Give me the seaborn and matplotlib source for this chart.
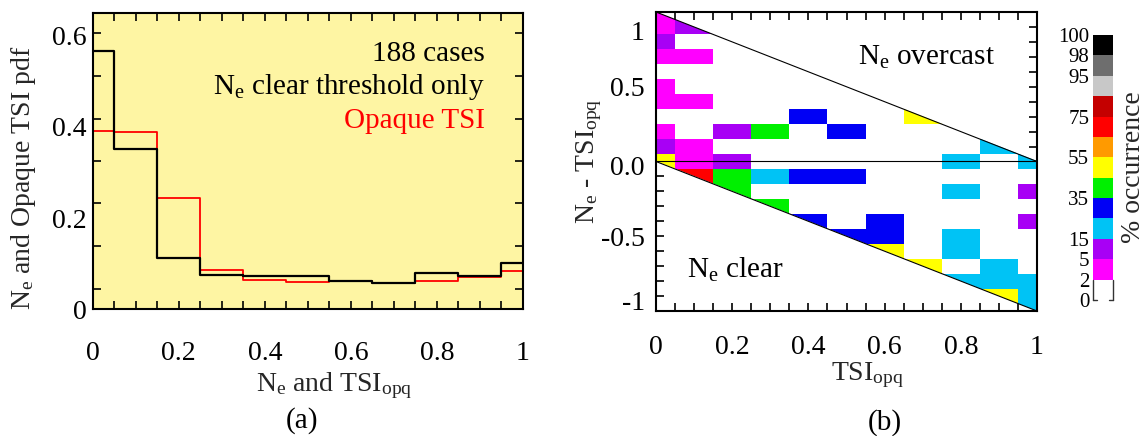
import numpy as np
import matplotlib
matplotlib.use("Agg")
import matplotlib.pyplot as plt
import seaborn as sns
from matplotlib.colors import ListedColormap, BoundaryNorm
from matplotlib.patches import Polygon
from matplotlib.ticker import FixedLocator, MultipleLocator, FixedFormatter
import matplotlib.colorbar as mcolorbar

# ---------------- data ----------------
# (a) pdfs on bins centred at 0, 0.1, ..., 1 (edge bins half width)
bin_edges = [0.0, 0.05, 0.15, 0.25, 0.35, 0.45, 0.55, 0.65, 0.75, 0.85, 0.95, 1.0]
ne_clear_pdf = [0.565, 0.351, 0.112, 0.076, 0.074, 0.074, 0.062, 0.057, 0.080, 0.074, 0.101]
opaque_tsi_pdf = [0.390, 0.388, 0.244, 0.086, 0.065, 0.059, 0.062, 0.058, 0.062, 0.071, 0.084]

# (b) % occurrence of Ne - TSIopq for each TSIopq bin
tsi_centers = [0.0, 0.1, 0.2, 0.3, 0.4, 0.5, 0.6, 0.7, 0.8, 0.9, 1.0]
diff_centers = [1.0, 0.9, 0.8, 0.7, 0.6, 0.5, 0.4, 0.3, 0.2, 0.1, 0.0,
                -0.1, -0.2, -0.3, -0.4, -0.5, -0.6, -0.7, -0.8, -0.9, -1.0]
occurrence = [
    [3, 0, 0, 0, 0, 0, 0, 0, 0, 0, 0],        # 1.0
    [3, 10, 0, 0, 0, 0, 0, 0, 0, 0, 0],       # 0.9
    [10, 0, 0, 0, 0, 0, 0, 0, 0, 0, 0],       # 0.8
    [3, 3, 0, 0, 0, 0, 0, 0, 0, 0, 0],        # 0.7
    [0, 0, 0, 0, 0, 0, 0, 0, 0, 0, 0],        # 0.6
    [3, 0, 0, 0, 0, 0, 0, 0, 0, 0, 0],        # 0.5
    [3, 3, 0, 0, 0, 0, 0, 0, 0, 0, 0],        # 0.4
    [0, 0, 0, 0, 30, 0, 0, 50, 0, 0, 0],      # 0.3
    [3, 0, 10, 40, 0, 30, 0, 0, 0, 0, 0],     # 0.2
    [10, 3, 0, 0, 0, 0, 0, 0, 0, 20, 0],      # 0.1
    [50, 3, 10, 0, 0, 0, 0, 0, 20, 0, 20],    # 0.0
    [0, 70, 40, 20, 30, 30, 0, 0, 0, 0, 0],   # -0.1
    [0, 0, 40, 0, 0, 0, 0, 0, 20, 0, 10],     # -0.2
    [0, 0, 0, 40, 0, 0, 0, 0, 0, 0, 0],       # -0.3
    [0, 0, 0, 0, 30, 0, 30, 0, 0, 0, 10],     # -0.4
    [0, 0, 0, 0, 0, 30, 30, 0, 20, 0, 0],     # -0.5
    [0, 0, 0, 0, 0, 0, 50, 0, 20, 0, 0],      # -0.6
    [0, 0, 0, 0, 0, 0, 0, 50, 0, 20, 0],      # -0.7
    [0, 0, 0, 0, 0, 0, 0, 0, 20, 20, 20],     # -0.8
    [0, 0, 0, 0, 0, 0, 0, 0, 0, 50, 20],      # -0.9
    [0, 0, 0, 0, 0, 0, 0, 0, 0, 0, 20],       # -1.0
]

level_bounds = [0, 2, 5, 15, 25, 35, 45, 55, 65, 75, 85, 95, 98, 100]
level_colors = ["#FFFFFF", "#FF00FF", "#A800F5", "#00C3F5", "#0000F5", "#00F000",
                "#FFFF00", "#FF9A00", "#FF0000", "#C40000", "#C8C8C8", "#6E6E6E", "#000000"]
cbar_ticks = [0, 2, 5, 15, 35, 55, 75, 95, 98, 100]

x_ticks = [0, 0.2, 0.4, 0.6, 0.8, 1.0]
x_ticklabels = ["0", "0.2", "0.4", "0.6", "0.8", "1"]
pdf_ticks = [0, 0.2, 0.4, 0.6]
pdf_ticklabels = ["0", "0.2", "0.4", "0.6"]
diff_ticklabels = ["-1", "-0.5", "0.0", "0.5", "1"]

# ---------------- style ----------------
sns.set_theme(style="ticks")
plt.rcParams["font.family"] = ["Liberation Serif", "DejaVu Serif"]
plt.rcParams["mathtext.fontset"] = "custom"
plt.rcParams["mathtext.rm"] = "Liberation Serif"
plt.rcParams["mathtext.it"] = "Liberation Serif:italic"
plt.rcParams["mathtext.bf"] = "Liberation Serif:bold"
plt.rcParams["axes.edgecolor"] = "black"
plt.rcParams["xtick.color"] = "black"
plt.rcParams["ytick.color"] = "black"
plt.rcParams["text.color"] = "black"

FS = 20
W, H = 1147, 436
fig = plt.figure(figsize=(W / 100, H / 100), dpi=100)
fig.patch.set_facecolor("white")

def rect(l, r, t, b):
    return [l / W, (H - b) / H, (r - l) / W, (b - t) / H]

# ---------------- (a) ----------------
axL = fig.add_axes(rect(92.7, 523, 12.7, 309.3))
axL.set_facecolor("#FEF5A3")
sns.lineplot(x=bin_edges, y=opaque_tsi_pdf + [opaque_tsi_pdf[-1]], estimator=None,
             drawstyle="steps-post", color="#FF0000", lw=1.3, ax=axL)
sns.lineplot(x=bin_edges, y=ne_clear_pdf + [ne_clear_pdf[-1]], estimator=None,
             drawstyle="steps-post", color="black", lw=1.6, ax=axL)
axL.set_xlim(0, 1)
axL.set_ylim(0, 0.65)
axL.xaxis.set_major_locator(FixedLocator(x_ticks))
axL.xaxis.set_major_formatter(FixedFormatter(x_ticklabels))
axL.xaxis.set_minor_locator(MultipleLocator(0.05))
axL.yaxis.set_major_locator(FixedLocator(pdf_ticks))
axL.yaxis.set_major_formatter(FixedFormatter(pdf_ticklabels))
axL.yaxis.set_minor_locator(FixedLocator([0.045, 0.138, 0.232, 0.325, 0.418, 0.512, 0.605]))
axL.tick_params(axis="x", which="both", direction="in", length=6, width=1.2,
                top=True, bottom=True, labelsize=FS, pad=23)
axL.tick_params(axis="y", which="major", length=0, labelsize=FS, pad=4.5)
axL.tick_params(axis="y", which="minor", direction="in", length=6, width=1.2,
                left=True, right=True)
for s in axL.spines.values():
    s.set_linewidth(1.5)
    s.set_visible(True)
axL.set_xlabel(r"$\mathrm{N_e}$ and $\mathrm{TSI_{opq}}$", fontsize=FS)
axL.xaxis.label.set_verticalalignment("baseline")
axL.xaxis.set_label_coords(0.561, -0.2755)
axL.set_ylabel(r"$\mathrm{N_e}$ and Opaque TSI pdf", fontsize=FS)
axL.yaxis.set_label_coords(-0.128, 0.443)
axL.text(0.911, 0.8375, "188 cases", transform=axL.transAxes, ha="right",
         va="baseline", fontsize=FS + 1)
axL.text(0.911, 0.726, r"$\mathrm{N_e}$ clear threshold only", transform=axL.transAxes,
         ha="right", va="baseline", fontsize=FS + 1)
axL.text(0.911, 0.610, "Opaque TSI", transform=axL.transAxes, ha="right",
         va="baseline", fontsize=FS + 1, color="#FF0000")
fig.text(302 / W, 1 - 421 / H, "(a)", ha="center", va="center", fontsize=FS + 1)

# ---------------- (b) ----------------
axR = fig.add_axes(rect(656, 1037, 12, 311))
cmap = ListedColormap(level_colors)
norm = BoundaryNorm(level_bounds, cmap.N)
xc = np.array(tsi_centers)
yc = np.array(diff_centers)[::-1]
Z = np.array(occurrence, dtype=float)[::-1]
xe = np.append(xc - 0.05, xc[-1] + 0.05)
ye = np.append(yc - 0.05, yc[-1] + 0.05)
mesh = axR.pcolormesh(xe, ye, Z, cmap=cmap, norm=norm, shading="flat",
                      edgecolors="none", antialiased=False)
clip = Polygon([(0, 1), (1, 0), (1, -1), (0, 0)], closed=True,
               transform=axR.transData, facecolor="none", edgecolor="none")
mesh.set_clip_path(clip)
axR.plot([0, 1], [1, 0], color="black", lw=0.8)
axR.plot([0, 1], [0, -1], color="black", lw=0.8)
axR.plot([0, 1], [0, 0], color="black", lw=0.8)
axR.set_xlim(0, 1)
axR.set_ylim(-1, 1)
axR.xaxis.set_major_locator(FixedLocator(x_ticks))
axR.xaxis.set_major_formatter(FixedFormatter(x_ticklabels))
axR.xaxis.set_minor_locator(MultipleLocator(0.05))
axR.yaxis.set_major_locator(FixedLocator([-0.933, -0.5, -0.025, 0.5, 0.877]))
axR.yaxis.set_major_formatter(FixedFormatter(diff_ticklabels))
axR.yaxis.set_minor_locator(MultipleLocator(0.1))
axR.yaxis.remove_overlapping_locs = False
axR.tick_params(axis="x", which="both", direction="in", length=6, width=1.2,
                top=True, bottom=True, labelsize=FS, pad=17)
axR.tick_params(axis="y", which="major", length=0, labelsize=FS, pad=8)
axR.tick_params(axis="y", which="minor", direction="in", length=6, width=1.2,
                left=True, right=True)
for s in axR.spines.values():
    s.set_linewidth(1.5)
    s.set_visible(True)
axR.set_xlabel(r"$\mathrm{TSI_{opq}}$", fontsize=FS)
axR.xaxis.label.set_verticalalignment("baseline")
axR.xaxis.set_label_coords(0.556, -0.232)
axR.set_ylabel(r"$\mathrm{N_e}$ - $\mathrm{TSI_{opq}}$", fontsize=FS)
axR.yaxis.set_label_coords(-0.137, 0.5)
axR.text(0.530, 0.645, r"$\mathrm{N_e}$ overcast", ha="left", va="baseline",
         fontsize=FS + 1)
axR.text(0.081, -0.775, r"$\mathrm{N_e}$ clear", ha="left", va="baseline",
         fontsize=FS + 1)
fig.text(885 / W, 1 - 423 / H, "(b)", ha="center", va="center", fontsize=FS + 1)

# ---------------- colorbar ----------------
cax = fig.add_axes(rect(1093.3, 1112.7, 35, 300))
cb = mcolorbar.ColorbarBase(cax, cmap=cmap, norm=norm, boundaries=level_bounds,
                            spacing="uniform", ticks=cbar_ticks, orientation="vertical")
cb.outline.set_visible(False)
cax.yaxis.set_ticks_position("left")
cax.yaxis.set_label_position("right")
cax.tick_params(axis="y", which="both", length=0, labelsize=15, pad=3)
cax.set_yticklabels([str(t) for t in cbar_ticks])
cb.set_label("% occurrence", fontsize=FS, labelpad=6)
seg = 1.0 / (len(level_bounds) - 1)
for xs, ys in [([0, 0], [0, seg]), ([1, 1], [0, seg]), ([0, 0.2], [0, 0]), ([0.8, 1], [0, 0])]:
    cax.plot(xs, ys, color="#333333", lw=1.0, transform=cax.transAxes, clip_on=False)

fig.savefig("out.png", dpi=100, facecolor="white")
